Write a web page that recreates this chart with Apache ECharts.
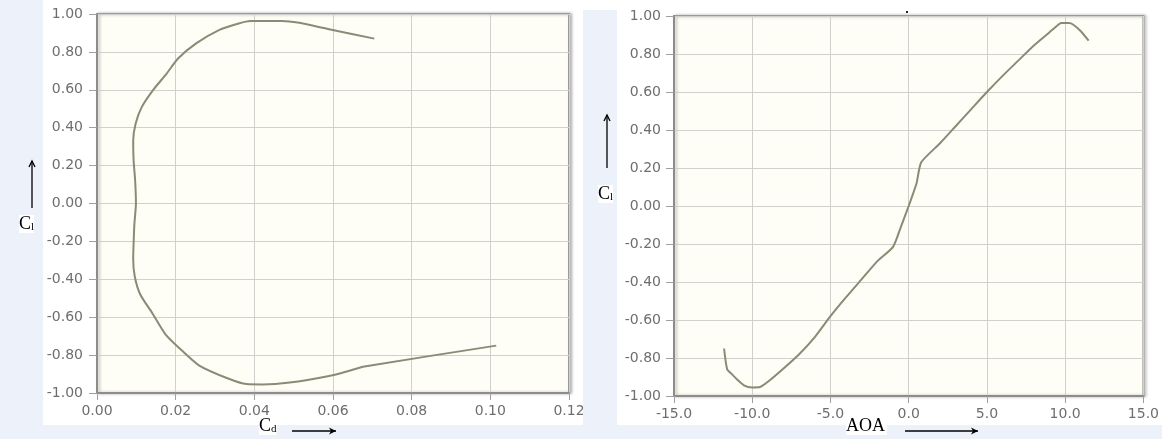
<!DOCTYPE html>
<html>
<head>
<meta charset="utf-8">
<script src="https://cdn.jsdelivr.net/npm/echarts@6/dist/echarts.min.js"></script>
<style>
html,body{margin:0;padding:0;background:#ffffff;}
#c{width:1162px;height:439px;}
</style>
</head>
<body>
<div id="c"></div>
<script>
// Shared polar data (angle of attack, lift coefficient, drag coefficient)
var aoa = [-11.8, -11.6, -11.3, -11.0, -10.5, -10.0, -9.5, -9.0, -8.0, -7.0, -6.0, -5.0, -4.0, -3.0, -2.0, -1.0, -0.5, 0.0, 0.5, 0.8, 2.0, 3.0, 4.0, 5.0, 6.0, 7.0, 8.0, 9.0, 9.5, 9.75, 10.25, 10.5, 11.0, 11.5];
var cl  = [-0.75, -0.86, -0.885, -0.91, -0.945, -0.955, -0.953, -0.925, -0.855, -0.78, -0.69, -0.58, -0.48, -0.385, -0.29, -0.215, -0.11, 0.0, 0.12, 0.23, 0.33, 0.42, 0.51, 0.60, 0.685, 0.765, 0.845, 0.915, 0.95, 0.963, 0.963, 0.955, 0.92, 0.87];
var cd  = [0.1015, 0.068, 0.0637, 0.059, 0.049, 0.042, 0.038, 0.0335, 0.026, 0.0218, 0.0174, 0.0141, 0.011, 0.0096, 0.0092, 0.0093, 0.0095, 0.0099, 0.0097, 0.0093, 0.0092, 0.0098, 0.0114, 0.0143, 0.0177, 0.0206, 0.0252, 0.031, 0.036, 0.039, 0.047, 0.051, 0.059, 0.0705];

var cdTicks = {min: 0, max: 0.12, interval: 0.02, digits: 2};
var aoaTicks = {min: -15, max: 15, interval: 5, digits: 1};
var clTicks = {min: -1, max: 1, interval: 0.2, digits: 2};

var chart = echarts.init(document.getElementById('c'));

var lineColor = '#8a8b76';
var labelStyle = {color: '#6e6e6e', fontFamily: 'DejaVu Sans', fontSize: 14};

function xAxisOf(t, gi) {
  return {
    type: 'value', gridIndex: gi, min: t.min, max: t.max, interval: t.interval,
    axisLine: {show: true, onZero: false, lineStyle: {color: '#8c8c8c', width: 2}},
    axisTick: {show: true, length: 7, lineStyle: {color: '#a0a0a0'}},
    axisLabel: Object.assign({margin: 11, formatter: function (v) { return v.toFixed(t.digits); }}, labelStyle),
    splitLine: {show: true, lineStyle: {color: '#d0d0cc', width: 1}}
  };
}
function yAxisOf(t, gi, margin) {
  return {
    type: 'value', gridIndex: gi, min: t.min, max: t.max, interval: t.interval,
    axisLine: {show: true, onZero: false, lineStyle: {color: '#8c8c8c', width: 2}},
    axisTick: {show: true, length: 8, lineStyle: {color: '#a0a0a0'}},
    axisLabel: Object.assign({margin: margin, formatter: function (v) { return v.toFixed(t.digits); }}, labelStyle),
    splitLine: {show: true, lineStyle: {color: '#d0d0cc', width: 1}}
  };
}

var gridStyle = {
  show: true, backgroundColor: '#fffef6', borderColor: '#9a9a9a', borderWidth: 2,
  shadowColor: 'rgba(0,0,0,0.25)', shadowBlur: 3, shadowOffsetX: 2, shadowOffsetY: 0, containLabel: false
};

var bgBlue = '#edf1f9';
var serif = 'Liberation Serif';

function arrowUp(x, y1, y2) {
  return [
    {type: 'line', shape: {x1: x, y1: y1, x2: x, y2: y2}, style: {stroke: '#000', lineWidth: 1.3}, z: 110},
    {type: 'polyline', shape: {points: [[x - 3, y2 + 6], [x, y2], [x + 3, y2 + 6]]}, style: {stroke: '#000', lineWidth: 1.3, fill: null}, z: 110}
  ];
}
function arrowRight(x1, x2, y) {
  return [
    {type: 'line', shape: {x1: x1, y1: y, x2: x2, y2: y}, style: {stroke: '#000', lineWidth: 1.3}, z: 110},
    {type: 'polygon', shape: {points: [[x2 - 7, y - 3.5], [x2, y], [x2 - 7, y + 3.5], [x2 - 5, y]]}, style: {fill: '#000'}, z: 110}
  ];
}
function subLabel(x, y, main, sub) {
  return {type: 'text', x: x, y: y, z: 110,
    style: {text: '{a|' + main + '}{b|' + sub + '}', rich: {a: {fontFamily: serif, fontSize: 18, fill: '#000', backgroundColor: '#fff'}, b: {fontFamily: serif, fontSize: 11, fill: '#000', verticalAlign: 'bottom', padding: [7, 0, 0, 0], backgroundColor: '#fff'}}}};
}

var graphics = [
  {type: 'rect', shape: {x: 0, y: 0, width: 43, height: 439}, style: {fill: bgBlue}, z: -10},
  {type: 'rect', shape: {x: 0, y: 425, width: 1162, height: 14}, style: {fill: bgBlue}, z: -10},
  {type: 'rect', shape: {x: 583, y: 10, width: 34, height: 429}, style: {fill: bgBlue}, z: 100},
  {type: 'rect', shape: {x: 906, y: 11, width: 2, height: 2}, style: {fill: '#222'}, z: 110},
  subLabel(19, 215, 'C', 'l'),
  subLabel(598, 185, 'C', 'l'),
  subLabel(259, 417, 'C', 'd'),
  {type: 'text', x: 846, y: 417, z: 110,
    style: {text: 'AOA', fontFamily: serif, fontSize: 18, fill: '#000', backgroundColor: '#fff', padding: [0, 2, 0, 0]}}
].concat(arrowUp(32, 208, 161), arrowUp(607, 168, 115), arrowRight(292, 336, 431), arrowRight(905, 978, 431));

chart.setOption({
  animation: false,
  backgroundColor: '#ffffff',
  grid: [
    Object.assign({left: 97, top: 14, width: 472, height: 379}, gridStyle),
    Object.assign({left: 674, top: 16, width: 470, height: 380}, gridStyle)
  ],
  xAxis: [xAxisOf(cdTicks, 0), xAxisOf(aoaTicks, 1)],
  yAxis: [yAxisOf(clTicks, 0, 14), yAxisOf(clTicks, 1, 13)],
  series: [
    {type: 'line', xAxisIndex: 0, yAxisIndex: 0, showSymbol: false, smooth: 0.2,
      lineStyle: {color: lineColor, width: 2},
      data: cd.map(function (d, i) { return [d, cl[i]]; })},
    {type: 'line', xAxisIndex: 1, yAxisIndex: 1, showSymbol: false, smooth: 0.2,
      lineStyle: {color: lineColor, width: 2},
      data: aoa.map(function (a, i) { return [a, cl[i]]; })}
  ],
  graphic: graphics
});
</script>
</body>
</html>
